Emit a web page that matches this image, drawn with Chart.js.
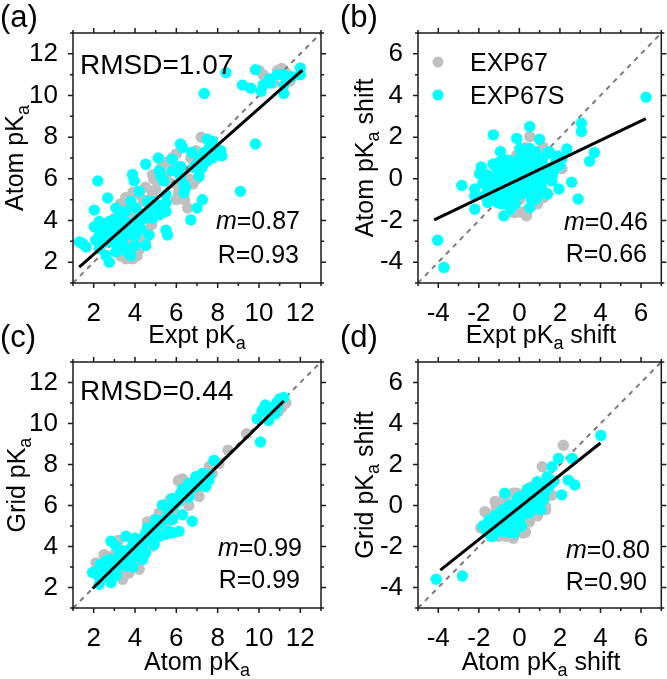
<!DOCTYPE html>
<html>
<head>
<meta charset="utf-8">
<script src="https://cdn.jsdelivr.net/npm/chart.js@4/dist/chart.umd.min.js"></script>
<style>
html, body { margin: 0; padding: 0; background: #fff; }
#wrap { position: relative; width: 667px; height: 679px; overflow: hidden; font-family: 'Liberation Sans', Arial, sans-serif; color: #000; }
canvas { position: absolute; left: 0; top: 0; }
.t { position: absolute; font-size: 25px; line-height: 25px; white-space: nowrap; }
.big { font-size: 28px; line-height: 28px; }
.s { font-size: 18px; position: relative; top: 6px; }
.lab { position: absolute; font-size: 31px; line-height: 31px; }
.xt { transform: translateX(-50%); }
.rt { transform: translateX(-100%); }
.yt { transform: translate(-50%, -50%) rotate(-90deg); }
.dot { position: absolute; width: 11px; height: 11px; border-radius: 50%; transform: translate(-50%, -50%); }
</style>
</head>
<body>
<div id="wrap">
  <canvas id="ca" width="667" height="679"></canvas>
  <canvas id="cb" width="667" height="679"></canvas>
  <canvas id="cc" width="667" height="679"></canvas>
  <canvas id="cd" width="667" height="679"></canvas>

  <div class="lab" style="left:0px;top:1px">(a)</div>
  <div class="lab" style="left:340px;top:1px">(b)</div>
  <div class="lab" style="left:0px;top:321px">(c)</div>
  <div class="lab" style="left:340px;top:321px">(d)</div>

  <div class="t big" style="left:80px;top:51px">RMSD=1.07</div>
  <div class="t rt" style="left:300px;top:208px"><i>m</i>=0.87</div>
  <div class="t rt" style="left:299px;top:242px">R=0.93</div>

  <div class="dot" style="left:438px;top:62px;background:#c0c0c0"></div>
  <div class="t" style="left:470px;top:50px">EXP67</div>
  <div class="dot" style="left:438px;top:95px;background:#00ffff"></div>
  <div class="t" style="left:470px;top:83px">EXP67S</div>
  <div class="t rt" style="left:648px;top:209px"><i>m</i>=0.46</div>
  <div class="t rt" style="left:647px;top:241px">R=0.66</div>

  <div class="t big" style="left:80px;top:377px">RMSD=0.44</div>
  <div class="t rt" style="left:302px;top:535px"><i>m</i>=0.99</div>
  <div class="t rt" style="left:300px;top:567px">R=0.99</div>

  <div class="t rt" style="left:650px;top:537px"><i>m</i>=0.80</div>
  <div class="t rt" style="left:647px;top:569px">R=0.90</div>

  <div class="t xt" style="left:197px;top:322px">Expt pK<span class="s">a</span></div>
  <div class="t xt" style="left:541px;top:322px">Expt pK<span class="s">a</span> shift</div>
  <div class="t xt" style="left:197px;top:649px">Atom pK<span class="s">a</span></div>
  <div class="t xt" style="left:541px;top:649px">Atom pK<span class="s">a</span> shift</div>

  <div class="t yt" style="left:16px;top:158px">Atom pK<span class="s">a</span></div>
  <div class="t yt" style="left:366px;top:158px">Atom pK<span class="s">a</span> shift</div>
  <div class="t yt" style="left:18px;top:485px">Grid pK<span class="s">a</span></div>
  <div class="t yt" style="left:366px;top:485px">Grid pK<span class="s">a</span> shift</div>
</div>

<script>
// axis ranges and tick labels
var pkRange = [1, 13];
var shiftRange = [-5, 7];
var pkTicks = [2, 4, 6, 8, 10, 12];
var shiftTicks = [-4, -2, 0, 2, 4, 6];

// (a) Atom pKa vs Expt pKa
var aGray = [[3.56,2.16],[3.9,2.16],[4.2,2.6],[3.8,2.6],[4.05,2.95],[3.55,2.95],[3.25,3.3],[4.37,3.3],[4.6,3.45],[3.9,4.1],[3.55,4.3],[3.55,5.1],[3.9,5.35],[4.2,5.25],[4.5,5.6],[4.5,4.9],[4.85,5.25],[4.85,6.2],[5.3,6.6],[5.8,7.0],[5.95,6.5],[6.2,6.3],[6.1,5.6],[6.45,5.75],[6.55,4.6],[6.8,5.75],[7.0,6.0],[7.2,8.0],[6.95,7.35],[6.7,7.0],[6.1,5.3],[5.5,6.2],[5.1,5.9],[4.7,4.3],[4.3,3.5],[3.2,3.0],[3.45,3.5],[3.0,4.1],[3.7,3.75],[4.1,4.5],[4.7,5.0],[5.7,5.8],[6.4,6.4],[7.3,7.2],[6.0,5.0],[6.4,5.0],[3.3,2.3],[3.7,2.2],[4.1,2.3],[4.3,2.8],[4.5,3.0],[4.8,3.8],[5.0,5.5],[4.4,5.0],[3.6,4.8],[3.3,4.8],[4.9,6.0],[5.5,6.8],[6.0,7.2],[6.6,6.0],[6.3,5.3],[3.1,3.6],[10.0,11.2],[10.2,11.0],[10.9,11.2],[11.1,11.3],[11.3,11.1],[11.5,10.7],[10.7,10.6]];
var aCyan = [[12.0,11.32],[12.0,11.0],[11.6,10.9],[11.2,11.0],[11.2,10.5],[11.2,10.1],[10.9,11.0],[10.5,10.8],[10.2,10.5],[10.55,10.6],[9.83,11.24],[9.2,10.5],[9.6,10.35],[10.1,10.2],[8.4,11.1],[7.35,10.1],[9.83,7.67],[9.1,5.4],[7.5,7.9],[7.75,7.8],[7.9,7.5],[8.15,7.35],[8.2,7.1],[7.6,7.5],[7.35,7.27],[7.2,7.0],[7.1,6.86],[7.5,6.86],[7.75,7.0],[7.25,6.55],[6.85,6.55],[6.75,7.27],[6.2,7.67],[6.3,7.5],[5.8,6.38],[6.2,6.6],[6.2,6.13],[6.37,5.73],[6.45,5.57],[6.37,5.33],[6.93,6.62],[7.1,6.13],[7.26,5.0],[7.0,4.6],[6.7,4.03],[5.13,7.0],[5.8,6.94],[5.17,6.38],[5.25,6.13],[5.4,5.9],[5.5,5.24],[5.5,4.84],[5.5,4.43],[5.57,3.3],[5.5,3.54],[5.17,4.27],[5.0,4.27],[5.33,4.6],[4.77,4.76],[4.6,4.92],[4.52,6.7],[3.88,6.21],[3.96,5.9],[3.8,4.92],[4.2,5.4],[4.44,4.1],[4.2,3.94],[4.04,4.6],[4.52,2.8],[3.88,3.3],[3.72,3.6],[3.24,4.27],[3.08,4.6],[3.0,3.62],[2.76,3.95],[2.27,3.3],[2.27,3.95],[2.6,2.97],[2.6,2.32],[2.76,2.0],[3.08,2.5],[2.92,2.97],[2.2,5.9],[2.68,5.08],[2.03,4.5],[2.03,3.7],[2.1,3.05],[1.47,2.9],[1.31,2.97],[1.63,2.73],[2.27,2.65],[2.43,2.97],[2.76,3.3],[3.4,2.97],[3.56,2.65],[3.8,2.32],[4.04,3.3],[4.28,3.62],[3.24,3.3],[3.4,3.95],[3.56,4.43],[4.68,3.3],[4.85,4.1],[5.1,4.75],[3.2,3.7],[3.5,3.3],[3.6,3.9],[3.9,3.6],[4.1,4.0],[4.3,4.3],[4.0,2.8],[3.3,2.6],[2.9,3.3],[3.7,2.4],[3.4,4.4],[4.6,4.3],[4.9,4.9],[3.0,4.0],[2.5,3.6]];
var aFit = [[1.3,1.76],[12.1,11.22]];

// (b) Atom shift vs Expt shift
var bGray = [[0.51,2.03],[0.35,1.46],[-0.13,1.13],[1.15,1.54],[0.67,-1.13],[0.35,-1.78],[-0.21,-1.62],[0.83,-0.81],[-0.6,0.49],[0.51,0.97],[0.03,-0.81],[-0.37,-1.6],[1.3,0.32],[-0.93,-0.49],[-1.4,-0.16],[2.1,0.49],[0.3,1.5],[0.5,1.3],[0.2,0.9],[-0.3,-1.4],[0.1,-1.6],[0.4,-1.5],[0.6,-1.3],[0.9,-1.2],[0.7,1.2],[-0.2,1.0],[-0.6,0.6],[1.2,-0.9],[0.0,-1.0]];
var bCyan = [[6.25,3.92],[3.06,2.67],[3.06,2.27],[3.7,1.26],[3.46,0.84],[2.9,-0.97],[2.58,-0.16],[2.34,1.43],[2.0,0.65],[1.95,-0.49],[1.39,-0.73],[0.51,2.51],[0.99,1.9],[-0.13,1.94],[0.03,1.46],[-0.93,1.3],[-1.28,2.11],[-1.88,0.57],[-1.96,0.24],[-2.84,-0.32],[-2.2,-0.49],[-2.2,-0.81],[-2.2,-1.46],[-4.03,-2.95],[-3.72,-4.25],[-0.77,-1.78],[0.51,-1.38],[-0.45,-1.46],[-1.4,-0.97],[-1.56,-0.49],[-1.08,0.0],[-0.77,0.49],[-0.29,0.81],[0.19,0.49],[0.67,0.81],[1.15,0.97],[1.47,1.3],[1.63,0.16],[1.15,0.0],[0.51,-0.16],[-0.13,-0.49],[-0.77,-0.65],[-1.16,-0.73],[-1.08,-1.13],[0.19,-0.49],[0.83,-0.97],[1.79,0.81],[0.51,1.46],[-0.37,0.16],[-1.0,-0.24],[-1.72,-0.81],[-1.56,-1.13],[-0.45,-0.97],[0.35,0.16],[0.91,0.41],[2.1,0.97],[1.39,1.22],[-1.5,-0.3],[-1.3,-0.6],[-1.2,-0.2],[-1.1,0.3],[-0.9,-0.4],[-0.8,0.1],[-0.7,-0.9],[-0.6,-0.3],[-0.5,0.4],[-0.4,-0.6],[-0.3,-0.1],[-0.2,0.3],[-0.1,-0.8],[0.0,0.0],[0.1,-0.3],[0.2,0.6],[0.3,-0.7],[0.4,0.3],[0.5,-0.5],[0.6,0.1],[0.7,0.5],[0.8,-0.2],[0.9,0.8],[1.0,0.2],[1.1,-0.4],[1.2,0.6],[1.3,0.0],[1.5,0.5],[1.7,0.4],[1.9,1.1],[-1.3,0.7],[-0.6,0.9],[0.0,1.0],[0.3,1.2],[-0.9,-1.2],[-0.2,-1.2],[0.6,-1.0],[1.0,-0.7],[-1.8,-0.2],[-1.6,0.2],[0.8,1.3],[1.6,-0.1],[-0.4,0.7],[0.15,0.9],[-1.0,0.8],[-0.1,0.5]];
var bFit = [[-4.2,-1.97],[6.24,2.89]];

// (c) Grid pKa vs Atom pKa
var cGray = [[11.1,10.79],[10.95,10.6],[10.4,10.4],[11.3,11.0],[9.4,9.5],[8.5,8.7],[8.06,8.05],[6.13,7.24],[6.45,6.44],[7.1,6.44],[7.74,7.56],[4.93,5.31],[5.49,4.98],[4.85,4.02],[4.2,3.69],[3.56,2.89],[3.4,2.4],[2.92,2.73],[2.27,2.89],[2.11,3.2],[2.6,3.53],[3.08,3.69],[3.88,4.34],[4.52,4.18],[5.33,4.82],[5.17,5.63],[4.2,2.89],[2.3,2.5],[2.5,3.6],[2.9,3.5],[3.4,2.6],[3.7,2.7],[4.0,3.2],[4.4,3.6],[4.8,4.5],[5.3,5.4],[5.9,5.6],[6.1,7.2],[6.6,6.0],[7.0,6.6],[7.6,7.9],[6.3,7.3],[3.2,4.3],[4.6,5.2],[5.7,6.3]];
var cCyan = [[11.2,11.27],[10.87,11.03],[10.63,10.79],[10.15,10.63],[9.91,10.23],[10.47,10.15],[10.07,9.1],[10.79,10.47],[7.82,8.2],[7.26,7.56],[7.58,7.24],[7.42,6.92],[6.94,7.4],[6.61,7.08],[6.69,6.76],[6.21,6.6],[5.81,6.35],[5.33,6.03],[5.57,5.87],[6.29,5.55],[6.77,5.23],[5.81,5.31],[5.65,4.74],[6.13,4.74],[5.81,4.66],[5.01,5.31],[4.85,4.98],[4.52,4.66],[4.2,4.34],[3.56,4.5],[2.84,4.26],[3.88,4.02],[4.36,3.37],[4.52,3.69],[4.93,4.1],[5.17,4.5],[3.24,3.69],[2.76,3.37],[2.43,3.05],[1.95,2.73],[2.27,2.16],[2.84,2.24],[2.6,2.56],[3.08,2.89],[3.56,3.05],[3.96,3.53],[3.08,4.02],[2.2,2.6],[2.5,2.9],[2.7,2.5],[2.9,3.0],[3.0,3.3],[3.2,3.1],[3.3,3.5],[3.5,3.4],[3.7,3.6],[3.8,3.9],[4.0,3.8],[4.1,4.1],[4.3,4.0],[4.4,4.3],[4.6,4.4],[4.7,4.6],[4.9,4.7],[5.0,5.0],[5.2,5.1],[3.4,3.8],[3.6,3.2],[4.0,4.4],[4.6,4.9],[5.4,5.3],[5.6,5.6],[5.9,6.0],[6.1,6.2],[6.4,6.5],[6.6,6.4],[6.9,6.9],[7.1,7.0],[7.4,7.3],[7.6,7.5],[6.3,6.8],[2.3,3.1],[2.6,3.3],[2.9,2.7],[3.1,2.6],[3.9,3.0],[4.8,4.2],[5.5,4.6],[10.5,10.4],[10.9,10.8],[11.0,11.2],[10.3,10.9]];
var cFit = [[1.95,1.95],[11.2,11.1]];

// (d) Grid shift vs Atom shift
var dGray = [[2.17,2.94],[1.13,1.89],[0.32,0.6],[-0.16,0.6],[-0.8,0.27],[-1.45,-0.45],[-1.61,-1.18],[-0.64,-1.5],[0.16,-1.34],[1.29,-0.05],[0.8,0.44],[-1.13,-0.05],[-1.9,-1.1],[-1.7,-0.3],[-1.2,0.2],[-0.7,0.4],[-0.3,0.6],[0.0,0.55],[0.5,-0.8],[0.9,-0.5],[1.3,-0.2],[1.6,0.5],[-0.3,-1.6],[0.3,-1.3],[0.6,0.9],[-1.0,-1.5]];
var dCyan = [[4.02,3.42],[2.6,2.3],[1.93,2.29],[1.61,1.89],[1.37,1.4],[2.41,1.24],[2.73,1.0],[2.09,0.52],[1.45,0.92],[0.88,1.16],[0.48,0.84],[0.0,0.44],[-0.72,0.6],[0.32,-0.05],[-0.16,-0.37],[-0.64,-0.69],[-1.13,-0.77],[-1.45,-1.02],[-1.29,-1.5],[-1.61,-0.94],[-0.8,-1.26],[-0.24,-1.34],[0.64,0.11],[1.13,0.27],[1.05,-0.21],[-0.32,-0.05],[-0.8,-0.21],[-4.1,-3.6],[-2.81,-3.44],[0.48,-0.37],[0.16,0.27],[-1.8,-1.0],[-1.6,-1.3],[-1.5,-0.7],[-1.3,-1.0],[-1.2,-0.5],[-1.1,-1.2],[-1.0,-0.7],[-0.9,-0.3],[-0.8,-0.9],[-0.7,-0.4],[-0.6,-1.0],[-0.5,0.0],[-0.4,-0.5],[-0.3,-0.9],[-0.2,0.1],[-0.1,-0.3],[0.0,-0.7],[0.1,0.0],[0.2,-0.4],[0.3,0.3],[0.4,-0.1],[0.5,0.5],[0.6,-0.2],[0.7,0.3],[0.8,0.7],[0.9,0.0],[1.0,0.5],[1.1,0.9],[1.2,0.3],[1.3,0.7],[1.5,1.0],[1.7,1.2],[-0.5,-1.3],[0.1,-1.0],[-1.4,-1.5],[-0.1,0.3],[0.4,0.8]];
var dFit = [[-3.9,-3.15],[4.0,3.05]];

var W = 667, H = 679, YW = 60, XH = 40;
var fontFam = "'Liberation Sans', Arial, sans-serif";

function pts(arr) {
    return arr.map(function(p){ return {x: p[0], y: p[1]}; });
}

// box frame + major/minor ticks on all four sides
var frame = {
    id: 'frame',
    afterDraw: function(chart) {
        var ctx = chart.ctx, a = chart.chartArea;
        var sx = chart.scales.x, sy = chart.scales.y;
        var major = chart.options.majorTicks;
        ctx.save();
        ctx.strokeStyle = '#1a1a1a';
        ctx.lineWidth = 1.5;
        ctx.strokeRect(a.left, a.top, a.right - a.left, a.bottom - a.top);
        ctx.beginPath();
        for (var v = Math.ceil(sx.min); v <= sx.max; v++) {
            var len = major.indexOf(v) >= 0 ? 5 : 3;
            var px = sx.getPixelForValue(v);
            ctx.moveTo(px, a.bottom); ctx.lineTo(px, a.bottom + len);
            ctx.moveTo(px, a.top); ctx.lineTo(px, a.top - len);
        }
        for (var w = Math.ceil(sy.min); w <= sy.max; w++) {
            var l2 = major.indexOf(w) >= 0 ? 5 : 3;
            var py = sy.getPixelForValue(w);
            ctx.moveTo(a.left, py); ctx.lineTo(a.left - l2, py);
            ctx.moveTo(a.right, py); ctx.lineTo(a.right + l2, py);
        }
        ctx.stroke();
        ctx.restore();
    }
};

function makePanel(id, box, range, ticks, gray, cyan, fit) {
    var axis = function(isX) {
        return {
            type: 'linear',
            min: range[0],
            max: range[1],
            afterBuildTicks: function(s) { s.ticks = ticks.map(function(v){ return {value: v}; }); },
            afterFit: function(s) { if (isX) s.height = XH; else s.width = YW; },
            grid: { display: false },
            border: { display: false },
            ticks: { color: '#000', font: { family: fontFam, size: 26 }, padding: 7, maxRotation: 0, autoSkip: false }
        };
    };
    new Chart(document.getElementById(id), {
        type: 'scatter',
        data: {
            datasets: [
                { data: pts(fit), showLine: true, borderColor: '#000', borderWidth: 3, pointRadius: 0, order: 0 },
                { data: pts(cyan), backgroundColor: '#00ffff', borderWidth: 0, pointRadius: 5.7, order: 1 },
                { data: pts([[range[0], range[0]], [range[1], range[1]]]), showLine: true, borderColor: '#7a7a7a', borderDash: [5, 5], borderWidth: 2, pointRadius: 0, order: 2 },
                { data: pts(gray), backgroundColor: '#c0c0c0', borderWidth: 0, pointRadius: 5.7, order: 3 }
            ]
        },
        options: {
            responsive: false,
            animation: false,
            events: [],
            majorTicks: ticks,
            layout: { padding: { left: box[0] - YW, top: box[1], right: W - box[2], bottom: H - box[3] - XH } },
            plugins: { legend: { display: false }, tooltip: { enabled: false } },
            scales: { x: axis(true), y: axis(false) }
        },
        plugins: [frame]
    });
}

makePanel('ca', [73, 33, 321, 283], pkRange, pkTicks, aGray, aCyan, aFit);
makePanel('cb', [418, 33, 664, 283], shiftRange, shiftTicks, bGray, bCyan, bFit);
makePanel('cc', [73, 362, 321, 608], pkRange, pkTicks, cGray, cCyan, cFit);
makePanel('cd', [418, 362, 664, 608], shiftRange, shiftTicks, dGray, dCyan, dFit);
</script>
</body>
</html>
